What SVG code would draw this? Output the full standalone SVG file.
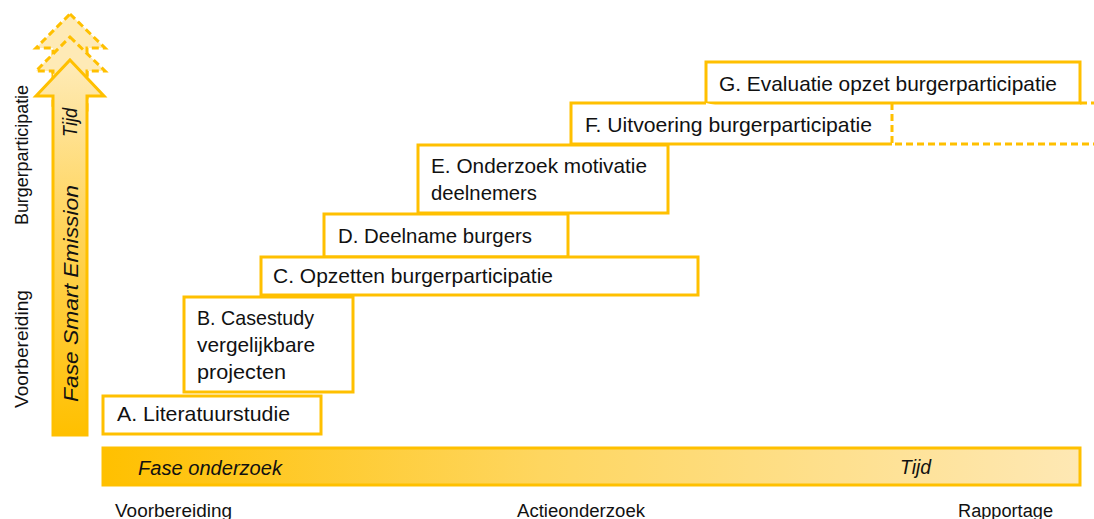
<svg xmlns="http://www.w3.org/2000/svg" width="1094" height="519" viewBox="0 0 1094 519">
<style>
.box{fill:#fff;stroke:#FFC000;stroke-width:3}
.t{font-family:"Liberation Sans",Arial,sans-serif;font-size:21px;fill:#111}
.it{font-family:"Liberation Sans",Arial,sans-serif;font-size:20px;font-style:italic;fill:#111}
.lbl{font-family:"Liberation Sans",Arial,sans-serif;font-size:18px;fill:#111}
.dash{fill:none;stroke:#FFC000;stroke-width:3;stroke-dasharray:7 4}
.dashArrow{fill:#FEEAB6;stroke:#FFC000;stroke-width:3;stroke-dasharray:7 4}
</style>
<defs>
<linearGradient id="vg" x1="0" y1="60" x2="0" y2="435" gradientUnits="userSpaceOnUse">
<stop offset="0" stop-color="#FEEBB8"/>
<stop offset="0.45" stop-color="#FFD45A"/>
<stop offset="1" stop-color="#FFC000"/>
</linearGradient>
<linearGradient id="hg" x1="103" y1="0" x2="1080" y2="0" gradientUnits="userSpaceOnUse">
<stop offset="0" stop-color="#FFC000"/>
<stop offset="0.45" stop-color="#FED660"/>
<stop offset="1" stop-color="#FEE8B4"/>
</linearGradient>
</defs>

<g id="vertical-axis">
<polygon class="dashArrow" points="70,14 105,48 87,48 87,90 53,90 53,48 36,48"/>
<polygon class="dashArrow" points="70,37 105,71 87,71 87,110 53,110 53,71 36,71"/>
<polygon points="70,60 104,96 87,96 87,435 53,435 53,96 36,96" fill="url(#vg)" stroke="#FFC000" stroke-width="3"/>
<text class="it" transform="translate(77,137) rotate(-90)" textLength="29" lengthAdjust="spacingAndGlyphs" font-size="17">Tijd</text>
<text class="it" transform="translate(78,402) rotate(-90)" textLength="217" lengthAdjust="spacingAndGlyphs">Fase Smart Emission</text>
<text class="lbl" transform="translate(28,225) rotate(-90)" textLength="140" lengthAdjust="spacingAndGlyphs">Burgerparticipatie</text>
<text class="lbl" transform="translate(28,408) rotate(-90)" textLength="118" lengthAdjust="spacingAndGlyphs">Voorbereiding</text>
</g>

<g id="horizontal-axis">
<rect x="103" y="448" width="977" height="37" fill="url(#hg)" stroke="#FFC000" stroke-width="3"/>
<text class="it" x="138" y="475" textLength="144" lengthAdjust="spacingAndGlyphs">Fase onderzoek</text>
<text class="it" x="900" y="474" textLength="31" lengthAdjust="spacingAndGlyphs" font-size="18">Tijd</text>
<text class="lbl" x="115" y="517" textLength="117" lengthAdjust="spacingAndGlyphs">Voorbereiding</text>
<text class="lbl" x="517" y="517" textLength="128" lengthAdjust="spacingAndGlyphs">Actieonderzoek</text>
<text class="lbl" x="958" y="517" textLength="95" lengthAdjust="spacingAndGlyphs">Rapportage</text>
</g>

<g id="connectors">
<path class="dash" d="M892,103 V144 H1094"/>
<path class="dash" d="M1080,103 H1094"/>
</g>

<g id="node-G">
<rect class="box" x="706" y="62" width="374" height="41"/>
<text class="t" x="719" y="91" textLength="338" lengthAdjust="spacingAndGlyphs">G. Evaluatie opzet burgerparticipatie</text>
</g>
<g id="node-F">
<path class="box" d="M892,144 H571 V103 H706" fill="none"/>
<text class="t" x="585" y="132" textLength="287" lengthAdjust="spacingAndGlyphs">F. Uitvoering burgerparticipatie</text>
</g>
<g id="node-E">
<rect class="box" x="418" y="145" width="250" height="68"/>
<text class="t" x="431" y="173" textLength="216" lengthAdjust="spacingAndGlyphs">E. Onderzoek motivatie</text>
<text class="t" x="431" y="200" textLength="106" lengthAdjust="spacingAndGlyphs">deelnemers</text>
</g>
<g id="node-D">
<rect class="box" x="324" y="214" width="244" height="43"/>
<text class="t" x="338" y="243" textLength="194" lengthAdjust="spacingAndGlyphs">D. Deelname burgers</text>
</g>
<g id="node-C">
<rect class="box" x="261" y="257" width="437" height="38"/>
<text class="t" x="273" y="283" textLength="280" lengthAdjust="spacingAndGlyphs">C. Opzetten burgerparticipatie</text>
</g>
<g id="node-B">
<rect class="box" x="184" y="297" width="169" height="95"/>
<text class="t" x="197" y="325" textLength="117" lengthAdjust="spacingAndGlyphs">B. Casestudy</text>
<text class="t" x="197" y="352" textLength="118" lengthAdjust="spacingAndGlyphs">vergelijkbare</text>
<text class="t" x="197" y="379" textLength="89" lengthAdjust="spacingAndGlyphs">projecten</text>
</g>
<g id="node-A">
<rect class="box" x="103" y="396" width="218" height="38"/>
<text class="t" x="117" y="421" textLength="173" lengthAdjust="spacingAndGlyphs">A. Literatuurstudie</text>
</g>
</svg>
